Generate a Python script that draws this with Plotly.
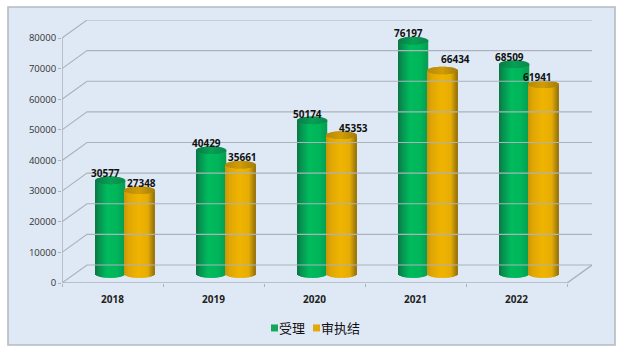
import math
import plotly.graph_objects as go

years = ["2018", "2019", "2020", "2021", "2022"]
accepted = [30577, 40429, 50174, 76197, 68509]
concluded = [27348, 35661, 45353, 66434, 61941]
y_ticks = [0, 10000, 20000, 30000, 40000, 50000, 60000, 70000, 80000]

# pixel geometry of the pseudo-3D scene
W, H = 623, 360
L, R, T, B = 62, 592, 20, 283
CAT_PX = 101.0
V_PX = 245.0 / 80000
DEPTH_X, DEPTH_Y = 25, 18
STRIPS = 30
BAR_W = 29.5
CAP = 3.8

green_stops = [(0, "#0b7440"), (0.12, "#069050"), (0.4, "#00bb5c"), (0.75, "#00b65a"), (1, "#05a052")]
gold_stops = [(0, "#c8960a"), (0.15, "#e0a604"), (0.5, "#f0b500"), (0.8, "#e5ab04"), (1, "#96730e")]
green_cap = [(0, "#0a7a44"), (0.5, "#08a055"), (1, "#0a8a4c")]
gold_cap = [(0, "#b5880a"), (0.5, "#d09c06"), (1, "#a67e0c")]
GRID = "#aab2bb"

x_pos = list(range(len(years)))
px_x = 1 / CAT_PX
px_y = 1 / V_PX
x_back = DEPTH_X * px_x
v_back = DEPTH_Y * px_y
x0, x1 = x_pos[0] - 0.5, x_pos[-1] + 0.5


def lerp(stops, t):
    for (a, ca), (b, cb) in zip(stops, stops[1:]):
        if t <= b:
            f = (t - a) / (b - a)
            rgb = [round(int(ca[i:i + 2], 16) * (1 - f) + int(cb[i:i + 2], 16) * f) for i in (1, 3, 5)]
            return "rgb(%d,%d,%d)" % tuple(rgb)
    return stops[-1][1]


fig = go.Figure()

# side wall, back wall and floor rules
for v in y_ticks:
    fig.add_trace(go.Scatter(
        x=[x0, x0 + x_back, x1 + x_back], y=[v, v + v_back, v + v_back],
        mode="lines", line=dict(color=GRID, width=1.1), hoverinfo="skip",
        showlegend=False, cliponaxis=False))
fig.add_trace(go.Scatter(
    x=[x0, x0, None, x0, x1, x1 + x_back], y=[y_ticks[-1], 0, None, 0, 0, v_back],
    mode="lines", line=dict(color=GRID, width=1.5), hoverinfo="skip",
    showlegend=False, cliponaxis=False))


def cylinder(values, center_px, body, cap):
    mid = v_back / 2
    width = BAR_W * px_x
    strip = width / STRIPS
    left = (center_px - BAR_W / 2) * px_x
    for i in range(STRIPS):
        t = (i + 0.5) / STRIPS
        s = math.sqrt(max(0, 1 - (2 * t - 1) ** 2))
        drop = CAP * px_y * s
        offset = left + i * strip
        fig.add_trace(go.Bar(
            x=x_pos, y=[v + drop for v in values], base=[mid - drop] * len(values),
            width=strip * 1.5, offset=offset, marker=dict(color=lerp(body, t), line_width=0),
            hoverinfo="skip", showlegend=False))
    for i in range(STRIPS):
        t = (i + 0.5) / STRIPS
        s = math.sqrt(max(0, 1 - (2 * t - 1) ** 2))
        drop = CAP * px_y * s
        offset = left + i * strip
        fig.add_trace(go.Bar(
            x=x_pos, y=[2 * drop] * len(values), base=[v + mid - drop for v in values],
            width=strip * 1.5, offset=offset, marker=dict(color=lerp(cap, t), line_width=0),
            hoverinfo="skip", showlegend=False))


GREEN_C, GOLD_C = -2.5, 26.8
cylinder(accepted, GREEN_C, green_stops, green_cap)
cylinder(concluded, GOLD_C, gold_stops, gold_cap)

# legend entries, one legend each so they can sit as tightly as on the reference
for name, colour, lg in (("受理", "#12a85a", "legend"), ("审执结", "#e2a80c", "legend2")):
    fig.add_trace(go.Scatter(x=[None], y=[None], mode="markers", name=name, legend=lg,
                             marker=dict(symbol="square", size=7, color=colour)))

# data labels: nudges (px) as placed on the reference
acc_nudge = [(-4.5, 7.4), (-5, 7.2), (-5, 6.8), (-5, 7.6), (-5, 7.2)]
con_nudge = [(2, 7.5), (2, 7.3), (12, 7), (13.5, 11.5), (-5.5, 7.8)]
annotations = []
for vals, nudges, c in ((accepted, acc_nudge, GREEN_C), (concluded, con_nudge, GOLD_C)):
    for xp, v, (dx, dy) in zip(x_pos, vals, nudges):
        annotations.append(dict(
            x=xp + c * px_x, y=v + v_back / 2, text=str(v), showarrow=False,
            xshift=dx, yshift=dy, xanchor="center", yanchor="middle",
            font=dict(family="Open Sans", size=10, color="#111111", weight="bold")))

# outer panel, in paper units
pw, ph = R - L, B - T
panel = dict(type="rect", xref="paper", yref="paper", layer="below",
             x0=(8 - L) / pw, x1=(615 - L) / pw,
             y0=(B - 345) / ph, y1=(B - 7) / ph,
             fillcolor="#dfe9f5", line=dict(color="#b4bbc3", width=1.6))


def legend_at(text_px):
    return dict(orientation="h", x=(text_px - 40 - L) / pw, xanchor="left",
                y=(B - 328) / ph, yanchor="middle", bgcolor="rgba(0,0,0,0)",
                itemwidth=30, tracegroupgap=0,
                font=dict(family="Noto Sans CJK SC", size=13, color="#111111"))


fig.update_layout(
    width=W, height=H, autosize=False,
    margin=dict(l=L, r=W - R, t=T, b=H - B, pad=0),
    paper_bgcolor="#ffffff", plot_bgcolor="rgba(0,0,0,0)",
    barmode="overlay", shapes=[panel], annotations=annotations,
    font=dict(family="Open Sans", color="#333333"),
    hovermode=False,
    legend=legend_at(279), legend2=legend_at(321),
    xaxis=dict(range=[x0, x1 + x_back], tickmode="array", tickvals=x_pos, ticktext=years,
               showgrid=False, zeroline=False, showline=False, ticks="", ticklabelstandoff=9,
               tickfont=dict(family="Open Sans", size=10, color="#222222", weight="bold"),
               minor=dict(tickmode="array", tickvals=[x0 + i for i in range(len(years) + 1)],
                          ticks="outside", ticklen=3, tickcolor=GRID, tickwidth=1.2)),
    yaxis=dict(range=[0, (B - T) * px_y], tickmode="array", tickvals=y_ticks,
               ticktext=[str(v) for v in y_ticks], showgrid=False, zeroline=False, showline=False,
               ticks="outside", ticklen=3, tickcolor=GRID, tickwidth=1.2,
               tickfont=dict(family="Open Sans", size=9.5, color="#333333")),
)

# plotly reserves a wide swatch column; slide the square next to its text
fig.write_html("out.html", config={"displayModeBar": False},
               post_script="document.body.style.margin='0';"
                           "document.querySelectorAll('.legendpoints').forEach("
                           "function(g){g.setAttribute('transform','translate(15.5,0)');});")
